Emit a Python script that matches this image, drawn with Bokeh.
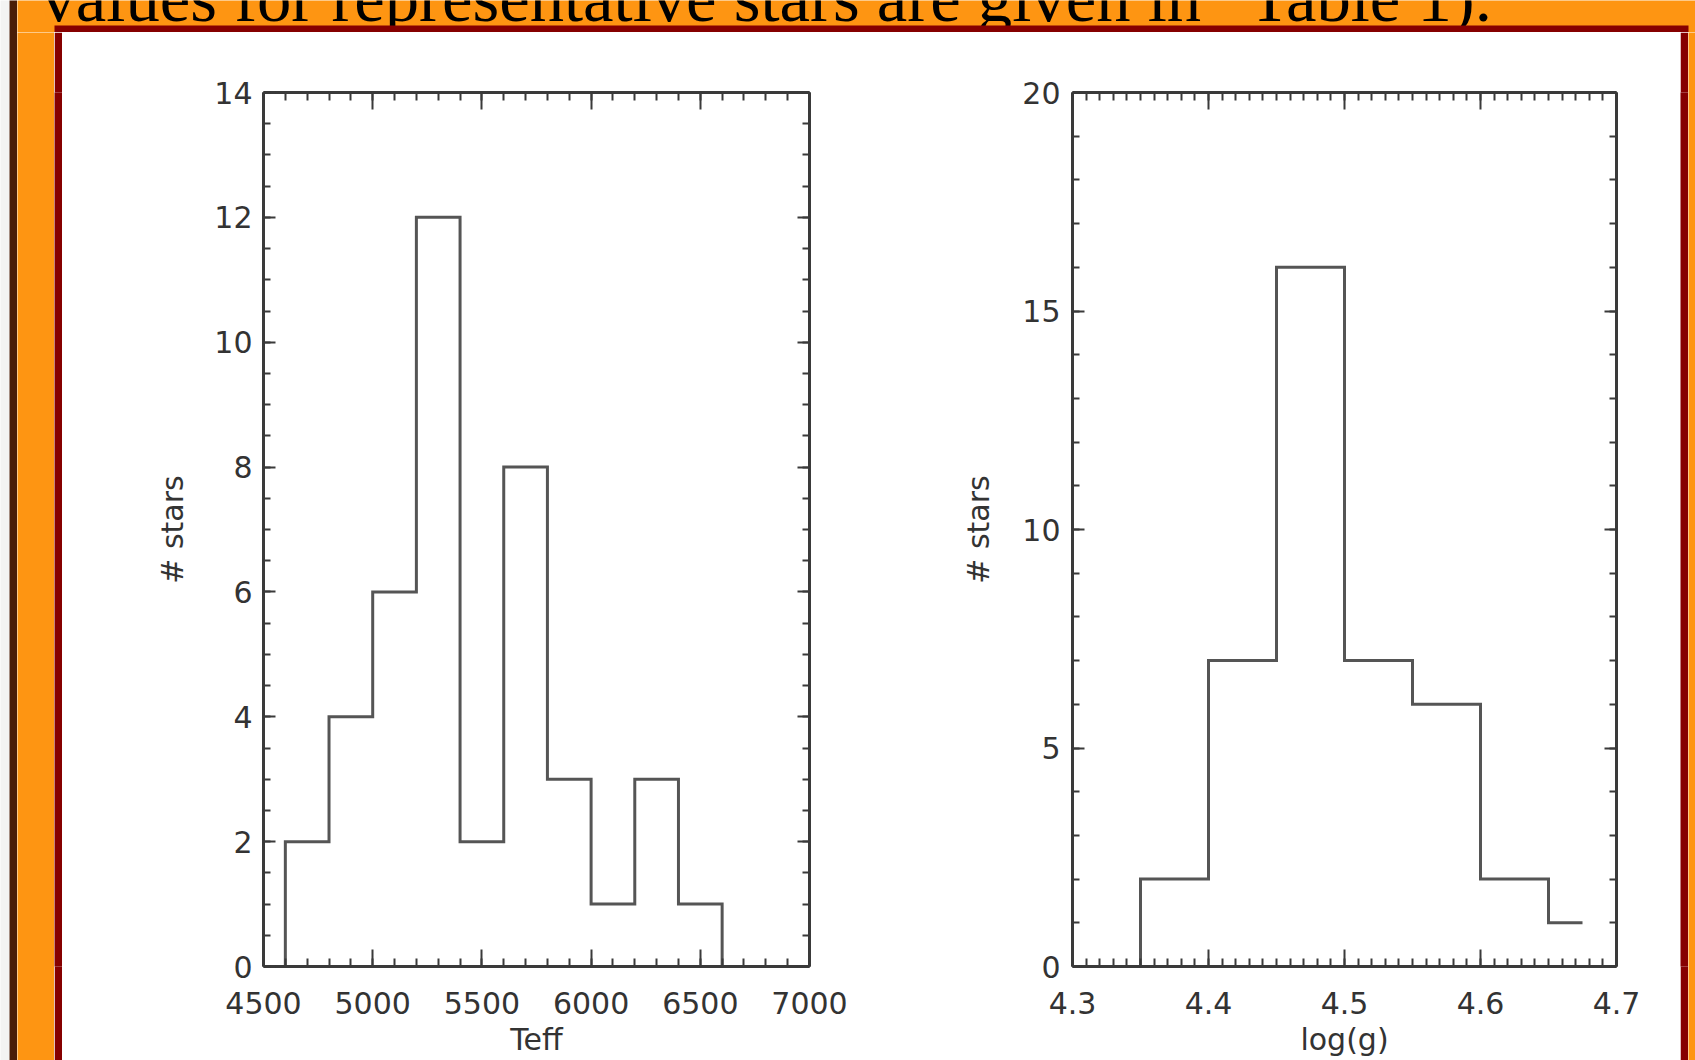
from bokeh.plotting import figure
from bokeh.layouts import row, column
from bokeh.models import Range1d, LinearAxis, FixedTicker, Label, BoxAnnotation
from bokeh.embed import file_html
from bokeh.resources import INLINE

# ---------------- data ----------------
teff_edges = [4600, 4800, 5000, 5200, 5400, 5600, 5800, 6000, 6200, 6400, 6600]
teff_counts = [2, 4, 6, 12, 2, 8, 3, 1, 3, 1]
logg_edges = [4.35, 4.40, 4.45, 4.50, 4.55, 4.60, 4.65, 4.675]
logg_counts = [2, 7, 16, 7, 6, 2, 1]

teff_ticks = [4500, 5000, 5500, 6000, 6500, 7000]
teff_minor = [4500 + 100 * i for i in range(26)]
stars_left_ticks = [0, 2, 4, 6, 8, 10, 12, 14]
stars_left_minor = [0.5 * i for i in range(29)]
logg_ticks = [4.3, 4.4, 4.5, 4.6, 4.7]
logg_minor = [round(4.3 + 0.01 * i, 2) for i in range(41)]
stars_right_ticks = [0, 5, 10, 15, 20]
stars_right_minor = list(range(21))

header_text = "values for representative stars are given in \u201cTable 1)."

# ---------------- style ----------------
ORANGE = "#FE9512"
DARKRED = "#860000"
BROWN = "#4A1D08"
PAGE = "#f3f3f3"
AXIS = "#3a3a3a"
HIST = "#555555"
FONT = "DejaVu Sans"
TXT = "#333333"


def block(w, h, color):
    b = figure(width=w, height=h, toolbar_location=None, output_backend="svg",
               min_border=0, x_axis_location=None, y_axis_location=None,
               x_range=Range1d(0, 1), y_range=Range1d(0, 1),
               background_fill_color=color, border_fill_color=color,
               outline_line_color=None)
    b.grid.visible = False
    return b


def style_axis(ax, tick_len, minor_len, labels=True):
    ax.axis_line_width = 3
    ax.axis_line_color = AXIS
    ax.major_tick_in = tick_len
    ax.major_tick_out = 0
    ax.minor_tick_in = minor_len
    ax.minor_tick_out = 0
    ax.major_tick_line_width = 2
    ax.minor_tick_line_width = 2
    ax.major_tick_line_color = AXIS
    ax.minor_tick_line_color = AXIS
    ax.major_label_text_font = FONT
    ax.major_label_text_font_size = "30px"
    ax.major_label_text_color = TXT if labels else None
    ax.axis_label_text_font = FONT
    ax.axis_label_text_font_size = "30px"
    ax.axis_label_text_font_style = "normal"
    ax.axis_label_text_color = TXT


def steps(edges, counts, close):
    xs = [edges[0]]
    ys = [0]
    for i, c in enumerate(counts):
        xs += [edges[i], edges[i + 1]]
        ys += [c, c]
    if close:
        xs.append(edges[-1])
        ys.append(0)
    return xs, ys


def hist_fig(width, edges, counts, close, xr, yr, xt, xm, yt, ym, xlabel,
             mb_left, mb_right, ylab_standoff, ytick_standoff):
    p = figure(width=width, height=1028, x_range=Range1d(*xr), y_range=Range1d(*yr),
               toolbar_location=None, output_backend="svg",
               min_border_left=mb_left, min_border_right=mb_right,
               min_border_top=60, min_border_bottom=94,
               background_fill_color="white", border_fill_color="white",
               outline_line_color=None)
    p.grid.visible = False
    xticker = FixedTicker(ticks=xt, minor_ticks=xm)
    yticker = FixedTicker(ticks=yt, minor_ticks=ym)

    xa = p.xaxis[0]
    xa.ticker = xticker
    style_axis(xa, 17, 8)
    xa.major_label_standoff = 25
    xa.axis_label = xlabel
    xa.axis_label_standoff = 5

    ya = p.yaxis[0]
    ya.ticker = yticker
    style_axis(ya, 12, 7)
    ya.major_label_standoff = ytick_standoff
    ya.axis_label = "# stars"
    ya.axis_label_standoff = ylab_standoff

    top = LinearAxis(ticker=xticker)
    style_axis(top, 17, 8, labels=False)
    top.major_label_standoff = 0
    p.add_layout(top, "above")

    right = LinearAxis(ticker=yticker)
    style_axis(right, 12, 7, labels=False)
    right.major_label_standoff = 0
    p.add_layout(right, "right")

    xs, ys = steps(edges, counts, close)
    p.line(xs, ys, line_color=HIST, line_width=3, line_join="miter")
    return p


left = hist_fig(838, teff_edges, teff_counts, True, (4500, 7000), (0, 14),
                teff_ticks, teff_minor, stars_left_ticks, stars_left_minor, "Teff",
                201, 91, 21, 11)
right_p = hist_fig(780, logg_edges, logg_counts, False, (4.3, 4.7), (0, 20),
                   logg_ticks, logg_minor, stars_right_ticks, stars_right_minor, "log(g)",
                   172, 64, 23, 12)

# header strip: orange with the (cut-off) sentence and the dark red top band of the frame
header = block(1678, 32, ORANGE)
header.add_layout(Label(x=24, y=35, x_units="screen", y_units="screen",
                        text=header_text, text_font="Liberation Serif",
                        text_font_size="68.7px", text_color="black",
                        text_baseline="alphabetic", text_align="left"))
header.add_layout(BoxAnnotation(left=37, right=1671, bottom=0, top=7,
                                left_units="screen", right_units="screen",
                                bottom_units="screen", top_units="screen",
                                fill_color=DARKRED, fill_alpha=1.0,
                                line_color=None))

inner = row(block(8, 1028, DARKRED), left, right_p, block(8, 1028, DARKRED))
body = row(block(37, 1028, ORANGE), inner, block(7, 1028, ORANGE))
page = row(block(9, 1060, PAGE), block(8, 1060, BROWN), column(header, body))

open("out.html", "w").write(file_html(page, INLINE))
